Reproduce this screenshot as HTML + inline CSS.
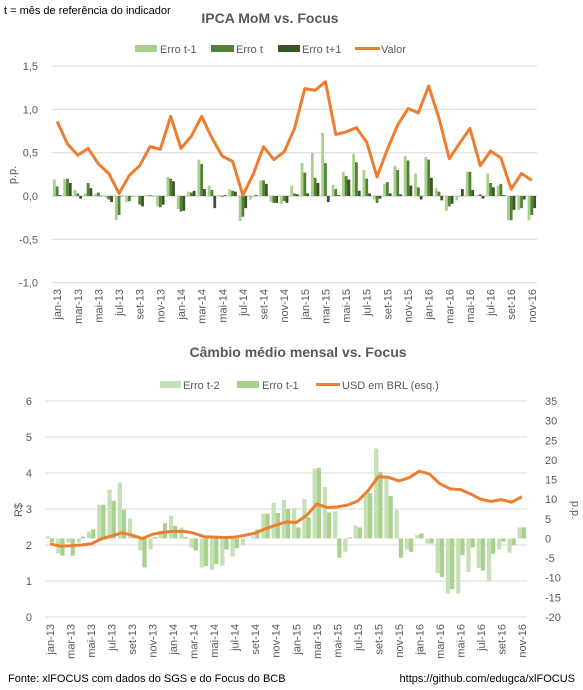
<!DOCTYPE html>
<html><head><meta charset="utf-8">
<style>
html,body{margin:0;padding:0;background:#fff;}
svg{display:block;font-family:"Liberation Sans",Calibri,sans-serif;}
.ax{font-size:11px;fill:#595959;}
.ttl{font-size:14px;font-weight:bold;fill:#595959;}
.lg{font-size:11px;fill:#595959;}
.ft{font-size:11px;fill:#000;}
</style></head>
<body>
<svg id="c" width="583" height="690" viewBox="0 0 583 690">
<text x="4" y="14" class="ft">t = mês de referência do indicador</text>
<text x="270" y="23" text-anchor="middle" class="ttl">IPCA MoM vs. Focus</text>
<g>
<rect x="135" y="45" width="22" height="7" fill="#a9d18e"/><text x="160" y="53" class="lg">Erro t-1</text>
<rect x="211" y="45" width="23" height="7" fill="#548235"/><text x="236" y="53" class="lg">Erro t</text>
<rect x="278" y="45" width="22" height="7" fill="#375623"/><text x="302" y="53" class="lg">Erro t+1</text>
<line x1="355" y1="48.5" x2="380" y2="48.5" stroke="#ed7d31" stroke-width="3"/><text x="381" y="53" class="lg">Valor</text>
</g>
<text x="298" y="357" text-anchor="middle" class="ttl">Câmbio médio mensal vs. Focus</text>
<g>
<rect x="160" y="381" width="21" height="7" fill="#c5e0b4"/><text x="183" y="389" class="lg">Erro t-2</text>
<rect x="237" y="381" width="22" height="7" fill="#a9d18e"/><text x="262" y="389" class="lg">Erro t-1</text>
<line x1="316" y1="384.5" x2="340" y2="384.5" stroke="#ed7d31" stroke-width="3"/><text x="342" y="389" class="lg">USD em BRL (esq.)</text>
</g>
<text x="8" y="682" class="ft">Fonte: xlFOCUS com dados do SGS e do Focus do BCB</text>
<text x="575" y="682" text-anchor="end" class="ft">https://github.com/edugca/xlFOCUS</text>
<g id="topchart"></g>
<g id="botchart"></g>
</svg>
<script>
const months = ["jan-13","fev-13","mar-13","abr-13","mai-13","jun-13","jul-13","ago-13","set-13","out-13","nov-13","dez-13","jan-14","fev-14","mar-14","abr-14","mai-14","jun-14","jul-14","ago-14","set-14","out-14","nov-14","dez-14","jan-15","fev-15","mar-15","abr-15","mai-15","jun-15","jul-15","ago-15","set-15","out-15","nov-15","dez-15","jan-16","fev-16","mar-16","abr-16","mai-16","jun-16","jul-16","ago-16","set-16","out-16","nov-16"];
const ipcaValor = [0.86,0.60,0.47,0.55,0.37,0.26,0.03,0.24,0.35,0.57,0.54,0.92,0.55,0.69,0.92,0.67,0.46,0.40,0.01,0.25,0.57,0.42,0.51,0.78,1.24,1.22,1.32,0.71,0.74,0.79,0.62,0.22,0.54,0.82,1.01,0.96,1.27,0.90,0.43,0.61,0.78,0.35,0.52,0.44,0.08,0.26,0.18];
const erroTm1 = [0.19,0.20,0.07,0.03,0.03,-0.02,-0.28,-0.07,0,0.01,-0.12,0.22,-0.15,0.05,0.42,0.12,0.01,0.08,-0.29,-0.04,0.18,-0.07,-0.09,0.12,0.38,0.50,0.73,0.13,0.28,0.49,0.30,-0.04,0.14,0.35,0.46,0.26,0.45,0.09,-0.17,-0.05,0.28,0.01,0.26,0.12,-0.28,-0.16,-0.28];
const erroT = [0.11,0.20,0.03,0.15,0.04,-0.04,-0.22,-0.06,-0.10,0.01,-0.13,0.20,-0.18,0.04,0.37,0.07,-0.01,0.06,-0.24,0,0.18,-0.08,-0.06,0.03,0.27,0.21,0.38,0.08,0.23,0.39,0.20,-0.08,0.16,0.30,0.41,0.10,0.42,0.05,-0.12,0,0.28,0.02,0.15,0.14,-0.28,-0.14,-0.22];
const erroTp1 = [0.01,0.15,-0.03,0.09,0,-0.07,0,0,-0.12,0,-0.10,0.17,-0.17,0.06,0.08,-0.14,0.01,0.05,-0.14,0.01,0.14,-0.08,-0.08,0.02,0.03,0.15,-0.07,0.01,0.19,0.06,0.03,-0.03,0.03,0.02,0.12,-0.04,0.21,-0.05,-0.09,0.08,0.07,-0.03,0.10,0.01,-0.16,-0.04,-0.14];
const topTicks = ["1,5","1,0","0,5","0,0","-0,5","-1,0"];
const topTickVals = [1.5,1.0,0.5,0,-0.5,-1.0];
const usdBrl = [2.03,1.97,1.98,2.00,2.03,2.17,2.25,2.34,2.27,2.18,2.30,2.35,2.38,2.38,2.33,2.23,2.22,2.21,2.22,2.27,2.33,2.45,2.55,2.64,2.63,2.82,3.14,3.04,3.06,3.11,3.22,3.51,3.90,3.88,3.78,3.87,4.05,3.97,3.70,3.56,3.54,3.42,3.27,3.21,3.26,3.19,3.34];
const erroTm2c = [0.5,-3.8,-1,-1,1.8,8.6,12.4,14.2,5.1,-3,-2.8,1.9,5.8,2.8,-2.3,-7.4,-8,-6.9,-4.6,-1.6,0.5,6.3,9.1,9.8,7.7,10,17.8,13.1,6.9,-3.4,3.3,11.5,22.9,15.3,7.2,-2.8,0.9,-1.3,-8.8,-14.1,-14,-8.5,-7.5,-10.9,-2.8,-3.6,2.8];
const erroTm1c = [-1,-4.4,-4.4,0.5,2.3,8.6,9.6,7.3,0.5,-7.4,0.4,3.9,3.2,0.4,-3.1,-7,-6.5,-2.8,-2.5,0,2.3,6.3,6.5,7.5,2.8,5.4,18,6.6,-4.9,0.3,2.8,11.6,16.9,10.8,-4.9,-3.4,1.3,-1.3,-9.8,-12.9,-4.3,-2.3,-8.2,-3.9,-0.8,-1.7,2.8];
const leftTicks = [0,1,2,3,4,5,6];
const rightTicks = [-20,-15,-10,-5,0,5,10,15,20,25,30,35];

const NS="http://www.w3.org/2000/svg";
function mk(parent,tag,attrs){const e=document.createElementNS(NS,tag);for(const k in attrs)e.setAttribute(k,attrs[k]);parent.appendChild(e);return e;}

// ---- top chart
const topG=document.getElementById('topchart');
const tX0=52,tX1=537,tSlot=(tX1-tX0)/months.length;
const ty=v=>196-v*86.6;
const tx=i=>tX0+(i+0.5)*tSlot;
topTickVals.forEach((v,i)=>{
  const g=mk(topG,'line',{x1:tX0,x2:tX1,y1:ty(v),y2:ty(v),stroke:v===0?'#bfbfbf':'#d9d9d9','stroke-width':1});
  
  
  const t=mk(topG,'text',{x:38,y:ty(v)+4,'text-anchor':'end',class:'ax'});t.textContent=topTicks[i];
  
  
});
const ylab=mk(topG,'text',{x:0,y:0,transform:'translate(16,175) rotate(-90)','text-anchor':'middle',class:'ax'});ylab.textContent='p.p.';


const tSeries=[[erroTm1,'#a9d18e','bar-erro-t-1'],[erroT,'#548235','bar-erro-t'],[erroTp1,'#375623','bar-erro-t+1']];
const bw=2.8;
tSeries.forEach((s,k)=>{
  s[0].forEach((v,i)=>{
    const x=tx(i)-1.5*bw+k*bw;
    const y=Math.min(ty(v),ty(0)),h=Math.abs(ty(v)-ty(0));
    const r=mk(topG,'rect',{x:x,y:y,width:bw,height:Math.max(h,0.3),fill:s[1]});
    
    
  });
});
const tl=mk(topG,'polyline',{points:ipcaValor.map((v,i)=>tx(i)+','+ty(v)).join(' '),fill:'none',stroke:'#ed7d31','stroke-width':3,'stroke-linejoin':'round'});


months.forEach((m,i)=>{
  if(i%2)return;
  const x=tx(i)+4;
  const t=mk(topG,'text',{x:0,y:0,transform:`translate(${x},289) rotate(-90)`,'text-anchor':'end',class:'ax'});t.textContent=m;
  
  
});

// ---- bottom chart
const botG=document.getElementById('botchart');
const bX0=45,bX1=527,bSlot=(bX1-bX0)/months.length;
const bTop=401,bBot=617;
const ly=v=>bBot-v*(bBot-bTop)/6;
const ry=v=>bBot-(v+20)*(bBot-bTop)/55;
const bx=i=>bX0+(i+0.5)*bSlot;
leftTicks.forEach(v=>{
  const g=mk(botG,'line',{x1:bX0,x2:bX1,y1:ly(v),y2:ly(v),stroke:'#d9d9d9','stroke-width':1});
  
  
  const t=mk(botG,'text',{x:32,y:ly(v)+4,'text-anchor':'end',class:'ax'});t.textContent=v;
  
  
});
rightTicks.forEach(v=>{
  const t=mk(botG,'text',{x:545,y:ry(v)+4,class:'ax'});t.textContent=v;
  
  
});
const lt=mk(botG,'text',{x:0,y:0,transform:'translate(22,510) rotate(-90)','text-anchor':'middle',class:'ax'});lt.textContent='R$';


const rt=mk(botG,'text',{x:0,y:0,transform:'translate(572,510) rotate(90)','text-anchor':'middle',class:'ax'});rt.textContent='p.p.';


const bSeries=[[erroTm2c,'#c5e0b4','bar-erro-t-2'],[erroTm1c,'#a9d18e','bar-cambio-erro-t-1']];
const bbw=4.2;
bSeries.forEach((s,k)=>{
  s[0].forEach((v,i)=>{
    const x=bx(i)-bbw+k*bbw;
    const y=Math.min(ry(v),ry(0)),h=Math.abs(ry(v)-ry(0));
    const r=mk(botG,'rect',{x:x,y:y,width:bbw,height:Math.max(h,0.3),fill:s[1]});
    
    
  });
});
const bl=mk(botG,'polyline',{points:usdBrl.map((v,i)=>bx(i)+','+ly(v)).join(' '),fill:'none',stroke:'#ed7d31','stroke-width':3,'stroke-linejoin':'round'});


months.forEach((m,i)=>{
  if(i%2)return;
  const x=bx(i)+4;
  const t=mk(botG,'text',{x:0,y:0,transform:`translate(${x},624) rotate(-90)`,'text-anchor':'end',class:'ax'});t.textContent=m;
  
  
});
</script>
</body></html>
